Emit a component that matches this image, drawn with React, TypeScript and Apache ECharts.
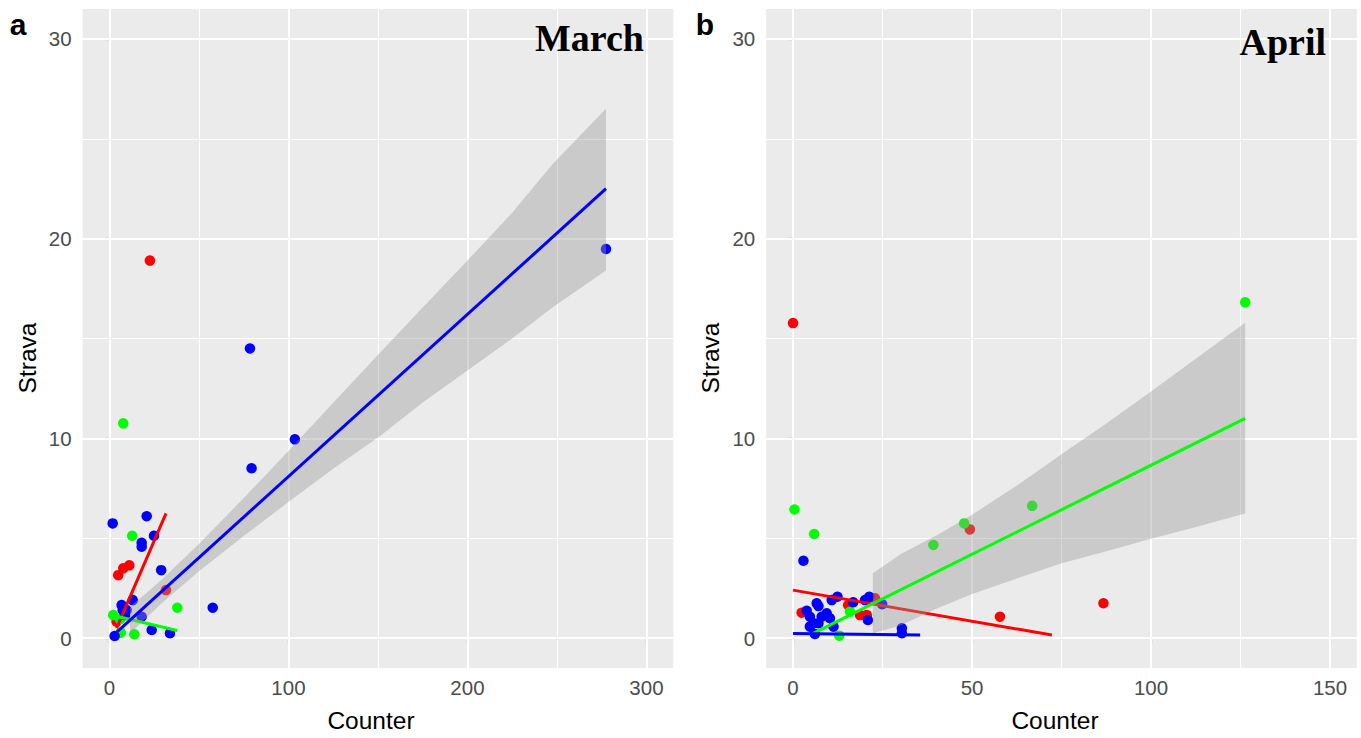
import React, { useEffect, useRef } from "react";
import * as echarts from "echarts";

// ---------- tick values ----------
const marchXTicks = [0, 100, 200, 300];
const marchXMinor = [50, 150, 250];
const aprilXTicks = [0, 50, 100, 150];
const aprilXMinor = [25, 75, 125];
const yTicks = [0, 10, 20, 30];
const yMinor = [5, 15, 25];

// ---------- March (panel a) ----------
const marchRed = [[22.6, 18.9], [4.9, 3.15], [7.7, 3.49], [11.1, 3.64], [31.6, 2.4], [4.0, 0.82]];
const marchGreen = [[7.7, 10.75], [12.7, 5.12], [37.9, 1.52], [2.1, 1.15], [5.9, 0.94], [6.3, 0.27], [13.9, 0.19]];
const marchBlue = [
  [277.4, 19.48], [103.6, 9.95], [79.4, 8.5], [78.5, 14.5], [1.8, 5.74], [20.8, 6.1], [24.9, 5.12],
  [18, 4.77], [18, 4.57], [28.9, 3.4], [57.7, 1.52], [13, 1.9], [6.8, 1.65], [9.6, 1.4], [7.4, 1.4],
  [8.7, 1.15], [18, 1.07], [23.6, 0.4], [33.8, 0.24], [2.9, 0.1],
];
const marchRedFit = [[4.0, 0.5], [31.6, 6.24]];
const marchGreenFit = [[2.1, 1.13], [37.9, 0.38]];
const marchBlueFit = [[1.8, 0.11], [277.4, 22.5]];
// [x, lower, upper]
const marchBlueBand = [
  [11.5, 0.22, 1.58], [20, 0.97, 2.21], [30, 1.8, 3.0], [50, 3.35, 4.71], [75, 5.11, 7.01],
  [100, 6.81, 9.37], [125, 8.48, 11.78], [151, 10.1, 14.28], [175, 11.8, 16.55], [200, 13.4, 18.9],
  [225, 15.0, 21.3], [248, 16.59, 23.77], [277.4, 18.4, 26.5],
];

// ---------- April (panel b) ----------
const aprilRed = [[0.0, 15.77], [57.8, 1.07], [86.7, 1.74], [49.4, 5.44], [2.4, 1.27], [18.7, 1.15], [20.6, 1.15], [15.4, 1.65], [22.9, 1.99]];
const aprilGreen = [[0.4, 6.44], [5.9, 5.21], [39.2, 4.66], [47.8, 5.74], [66.8, 6.62], [126.3, 16.81], [12.9, 0.12], [15.9, 1.32]];
const aprilBlue = [
  [2.9, 3.87], [6.6, 1.74], [7.1, 1.6], [10.8, 1.9], [12.4, 2.07], [16.8, 1.79], [20.1, 1.9], [21.3, 2.07],
  [24.9, 1.69], [3.8, 1.37], [4.7, 1.07], [5.7, 0.74], [8.0, 1.07], [9.4, 1.24], [10.3, 0.99], [4.7, 0.57],
  [7.1, 0.74], [20.9, 0.9], [6.1, 0.2], [30.4, 0.49], [30.4, 0.24], [11.3, 0.57],
];
const aprilRedFit = [[0, 2.4], [72.3, 0.15]];
const aprilGreenFit = [[5.2, 0.2], [126.3, 11.0]];
const aprilBlueFit = [[0, 0.23], [35.5, 0.15]];
const aprilGreenBand = [
  [22.3, 0.24, 3.24], [30, 0.63, 4.19], [40, 1.47, 5.13], [50, 2.2, 6.18], [62, 2.95, 7.57],
  [75, 3.75, 9.2], [87, 4.32, 10.68], [100, 4.97, 12.35], [112, 5.54, 13.92], [126.3, 6.24, 15.79],
];

const RED = "#FF0000";
const GREEN = "#00FF00";
const BLUE = "#0000FF";
const SANS = "Liberation Sans, Arial, sans-serif";
const SERIF = "Liberation Serif, Times New Roman, serif";

function gridLineSeries(idx: number, xMaj: number[], xMin: number[]) {
  const maj = { color: "#FFFFFF", width: 2, type: "solid" };
  const min = { color: "#FFFFFF", width: 1.1, type: "solid" };
  return {
    type: "line",
    xAxisIndex: idx,
    yAxisIndex: idx,
    data: [],
    silent: true,
    z: 1,
    markLine: {
      silent: true,
      z: 1,
      symbol: ["none", "none"],
      label: { show: false },
      emphasis: { disabled: true },
      data: [
        ...xMin.map((v) => ({ xAxis: v, lineStyle: min })),
        ...yMinor.map((v) => ({ yAxis: v, lineStyle: min })),
        ...xMaj.map((v) => ({ xAxis: v, lineStyle: maj })),
        ...yTicks.map((v) => ({ yAxis: v, lineStyle: maj })),
      ],
    },
  };
}

function bandSeries(idx: number, band: number[][], z: number) {
  return {
    type: "custom",
    xAxisIndex: idx,
    yAxisIndex: idx,
    z,
    silent: true,
    data: band,
    encode: { x: 0, y: [1, 2] },
    renderItem: (params: any, api: any) => {
      if (params.dataIndex !== 0) return null;
      const upper = band.map((r) => api.coord([r[0], r[2]]));
      const lower = band.slice().reverse().map((r) => api.coord([r[0], r[1]]));
      return {
        type: "polygon",
        shape: { points: upper.concat(lower) },
        style: { fill: "rgba(153,153,153,0.4)", stroke: "none" },
      };
    },
  };
}

function scatter(idx: number, data: number[][], color: string) {
  return {
    type: "scatter",
    xAxisIndex: idx,
    yAxisIndex: idx,
    z: 2,
    data,
    symbolSize: 10.5,
    itemStyle: { color, opacity: 1 },
    silent: true,
  };
}

function fit(idx: number, data: number[][], color: string, z: number) {
  return {
    type: "line",
    xAxisIndex: idx,
    yAxisIndex: idx,
    z,
    data,
    showSymbol: false,
    symbol: "none",
    silent: true,
    lineStyle: { color, width: 3 },
  };
}

function xAxis(idx: number, min: number, max: number, ticks: number[]) {
  return {
    type: "value",
    gridIndex: idx,
    min,
    max,
    axisLine: { show: false },
    axisTick: { show: true, customValues: ticks, length: 5, lineStyle: { color: "#333333", width: 1.1 } },
    axisLabel: { customValues: ticks, color: "#4D4D4D", fontSize: 20.5, fontFamily: SANS, margin: 9 },
    splitLine: { show: false },
    minorSplitLine: { show: false },
  };
}

function yAxis(idx: number) {
  return {
    type: "value",
    gridIndex: idx,
    min: -1.5,
    max: 31.5,
    axisLine: { show: false },
    axisTick: { show: true, customValues: yTicks, length: 5, lineStyle: { color: "#333333", width: 1.1 } },
    axisLabel: { customValues: yTicks, color: "#4D4D4D", fontSize: 20.5, fontFamily: SANS, margin: 11 },
    splitLine: { show: false },
    minorSplitLine: { show: false },
  };
}

export default function App() {
  const ref = useRef<HTMLDivElement>(null);
  useEffect(() => {
    if (!ref.current) return;
    const chart = echarts.init(ref.current, undefined, { renderer: "svg" });
    const gridCommon = {
      top: 9,
      height: 659,
      width: 590.7,
      show: true,
      backgroundColor: "#EBEBEB",
      borderWidth: 0,
      containLabel: false,
      outerBoundsMode: "none",
    };
    const titleStyle = { fill: "#000000", fontSize: 24.5, fontFamily: SANS };
    chart.setOption({
      animation: false,
      textStyle: { fontFamily: SANS },
      grid: [
        { ...gridCommon, left: 82.6 },
        { ...gridCommon, left: 766.2 },
      ],
      xAxis: [xAxis(0, -15, 315, marchXTicks), xAxis(1, -7.5, 157.5, aprilXTicks)],
      yAxis: [yAxis(0), yAxis(1)],
      series: [
        gridLineSeries(0, marchXTicks, marchXMinor),
        gridLineSeries(1, aprilXTicks, aprilXMinor),
        scatter(0, marchRed, RED),
        scatter(0, marchGreen, GREEN),
        scatter(0, marchBlue, BLUE),
        scatter(1, aprilRed, RED),
        scatter(1, aprilGreen, GREEN),
        scatter(1, aprilBlue, BLUE),
        fit(0, marchRedFit, RED, 3),
        fit(0, marchGreenFit, GREEN, 5),
        bandSeries(0, marchBlueBand, 6),
        fit(0, marchBlueFit, BLUE, 7),
        fit(1, aprilRedFit, RED, 3),
        bandSeries(1, aprilGreenBand, 4),
        fit(1, aprilGreenFit, GREEN, 5),
        fit(1, aprilBlueFit, BLUE, 7),
      ],
      graphic: [
        { type: "text", x: 18, y: 24, style: { text: "a", fill: "#000", fontSize: 30, fontWeight: "bold", fontFamily: SANS, align: "center", verticalAlign: "middle" } },
        { type: "text", x: 705, y: 24, style: { text: "b", fill: "#000", fontSize: 30, fontWeight: "bold", fontFamily: SANS, align: "center", verticalAlign: "middle" } },
        { type: "text", x: 644, y: 38, z: 100, style: { text: "March", fill: "#000", fontSize: 38, fontWeight: "bold", fontFamily: SERIF, align: "right", verticalAlign: "middle" } },
        { type: "text", x: 1326, y: 42, z: 100, style: { text: "April", fill: "#000", fontSize: 38, fontWeight: "bold", fontFamily: SERIF, align: "right", verticalAlign: "middle" } },
        { type: "text", x: 371, y: 720, style: { ...titleStyle, text: "Counter", align: "center", verticalAlign: "middle" } },
        { type: "text", x: 1055, y: 720, style: { ...titleStyle, text: "Counter", align: "center", verticalAlign: "middle" } },
        { type: "text", x: 27, y: 358, rotation: Math.PI / 2, style: { ...titleStyle, text: "Strava", align: "center", verticalAlign: "middle" } },
        { type: "text", x: 710, y: 358, rotation: Math.PI / 2, style: { ...titleStyle, text: "Strava", align: "center", verticalAlign: "middle" } },
      ],
    });
    return () => chart.dispose();
  }, []);
  return (
    <div
      ref={ref}
      style={{ position: "fixed", left: 0, top: 0, width: 1361, height: 738, background: "#FFFFFF" }}
    />
  );
}
